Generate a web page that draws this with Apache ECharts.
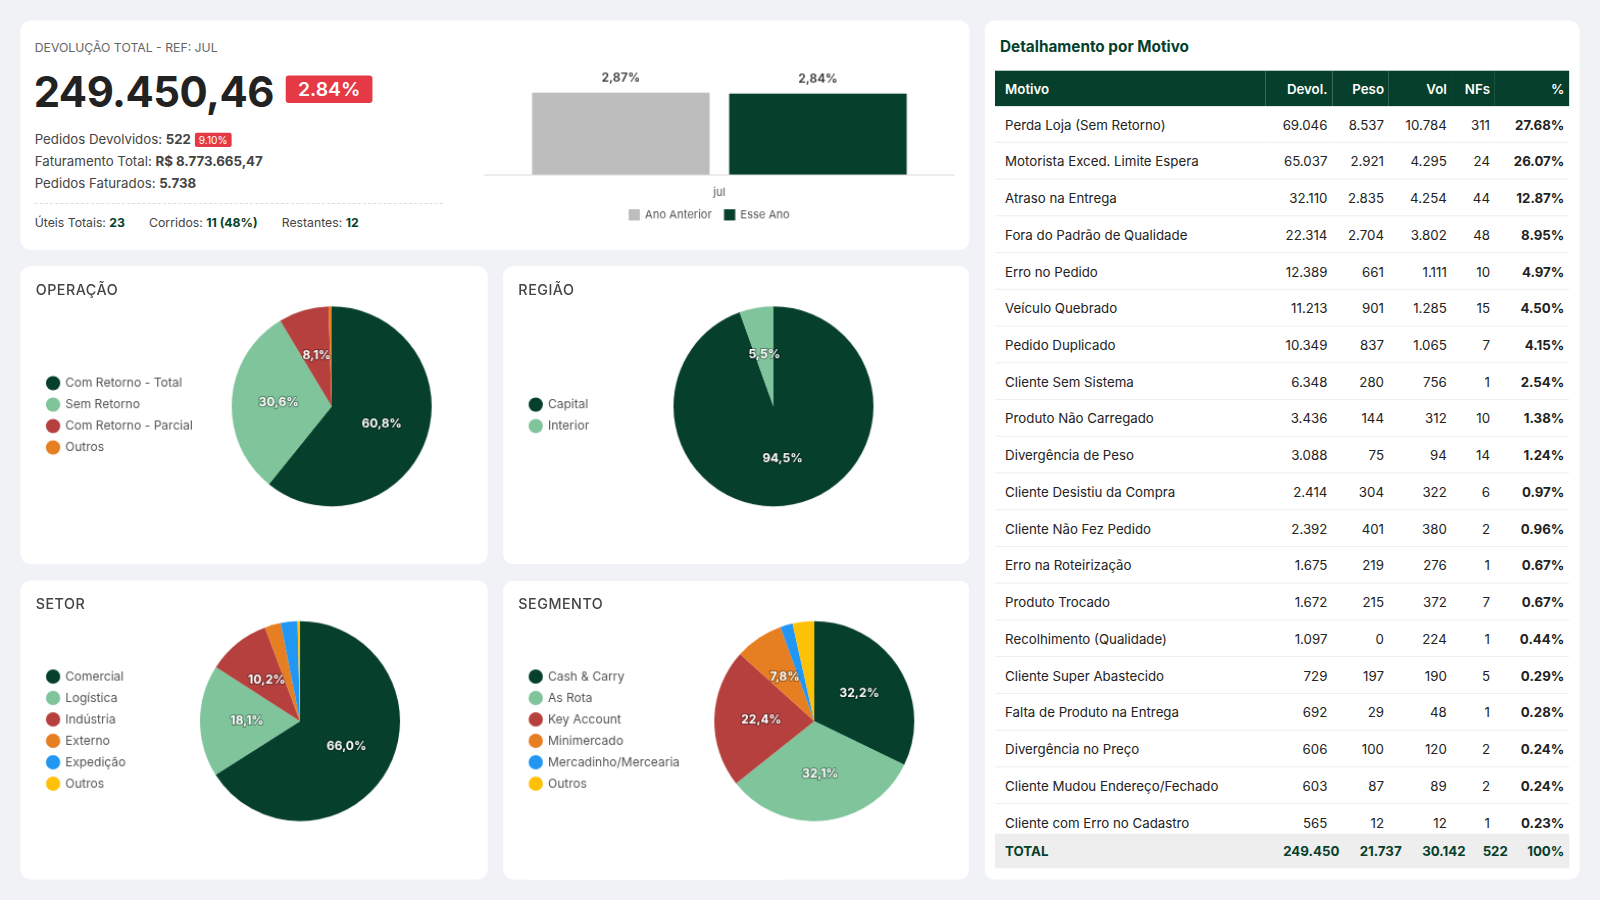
<!DOCTYPE html>
<html><head><meta charset="utf-8">
<script src="https://cdn.jsdelivr.net/npm/echarts@6/dist/echarts.min.js"></script>
<style>
body{margin:0;background:#f0f2f5;font-family:Inter,"Noto Sans",sans-serif;width:1600px;height:900px;overflow:hidden;position:relative}
#wrap{position:absolute;left:0;top:0;width:1568px;height:882px;transform:scale(1.0204);transform-origin:0 0}
.card{position:absolute;background:#fff;border-radius:10px}
.ttl{position:absolute;left:15px;top:14px;font-size:14px;font-weight:500;color:#444;letter-spacing:.5px}
.ch{position:absolute;left:0;top:0;right:0;bottom:0}
table{border-collapse:collapse;width:563px;font-size:13px;color:#222}
th{background:#063f2b;color:#fff;font-weight:600;height:35px;text-align:right;padding:0 5px}
td{height:35px;border-bottom:1px solid #eee;text-align:right;padding:0 5px}
th:first-child,td:first-child{text-align:left;padding-left:10px}
td:last-child{font-weight:700}
#tot{position:absolute;left:10px;top:797px;width:563px;height:34px;background:#eeeeee}
#tot td{color:#063f2b;font-weight:700;height:34px;border:none}
</style></head><body><div id="wrap">
<div class="card" style="left:20px;top:20px;width:930px;height:225px">
 <div style="position:absolute;left:14px;top:19px;font-size:12px;color:#666">DEVOLUÇÃO TOTAL - REF: JUL</div>
 <div style="position:absolute;left:13px;top:45px;font-size:41px;font-weight:700;color:#222;letter-spacing:-0.5px">249.450,46</div>
 <div style="position:absolute;left:260px;top:54px;background:#e63946;color:#fff;font-size:19px;font-weight:600;padding:2px 12px;border-radius:3px">2.84%</div>
 <div style="position:absolute;left:14px;top:106px;font-size:13px;color:#444;line-height:21px">
  Pedidos Devolvidos: <b>522</b> <span style="background:#e63946;color:#fff;font-size:10px;padding:1px 4px;border-radius:2px">9.10%</span><br>
  Faturamento Total: <b>R$ 8.773.665,47</b><br>Pedidos Faturados: <b>5.738</b></div>
 <div style="position:absolute;left:14px;top:179px;width:400px;border-top:1px dashed #ddd"></div>
 <div style="position:absolute;left:14px;top:190px;font-size:12px;color:#444">Úteis Totais: <b style="color:#063f2b">23</b>&nbsp;&nbsp;&nbsp;&nbsp;&nbsp;&nbsp;&nbsp;Corridos: <b style="color:#063f2b">11 (48%)</b>&nbsp;&nbsp;&nbsp;&nbsp;&nbsp;&nbsp;&nbsp;Restantes: <b style="color:#063f2b">12</b></div>
 <div id="bar" style="position:absolute;left:420px;top:0;width:510px;height:225px"></div>
</div>
<div class="card" style="left:20px;top:261px;width:458px;height:292px"><div class="ttl">OPERAÇÃO</div><div id="p1" class="ch"></div></div>
<div class="card" style="left:493px;top:261px;width:457px;height:292px"><div class="ttl">REGIÃO</div><div id="p2" class="ch"></div></div>
<div class="card" style="left:20px;top:569px;width:458px;height:293px"><div class="ttl">SETOR</div><div id="p3" class="ch"></div></div>
<div class="card" style="left:493px;top:569px;width:457px;height:293px"><div class="ttl">SEGMENTO</div><div id="p4" class="ch"></div></div>
<div class="card" style="left:965px;top:20px;width:583px;height:842px;overflow:hidden">
 <div style="position:absolute;left:15px;top:16px;font-size:15px;font-weight:700;color:#063f2b">Detalhamento por Motivo</div>
 <div style="position:absolute;left:10px;top:49px;height:787px;overflow:hidden"><table id="tb"></table></div>
 <table id="tot"></table>
</div>
</div>
<script>
var barCats = ['jul'];
var anoAnterior = [2.87];
var esseAno = [2.84];

var opNames = ['Com Retorno - Total','Sem Retorno','Com Retorno - Parcial','Outros'];
var opVals = [60.8, 30.6, 8.1, 0.5];
var regNames = ['Capital','Interior'];
var regVals = [94.5, 5.5];
var setNames = ['Comercial','Logística','Indústria','Externo','Expedição','Outros'];
var setVals = [66.0, 18.1, 10.2, 2.6, 2.7, 0.4];
var segNames = ['Cash & Carry','As Rota','Key Account','Minimercado','Mercadinho/Mercearia','Outros'];
var segVals = [32.2, 32.1, 22.4, 7.8, 2.0, 3.5];

var motivos = ['Perda Loja (Sem Retorno)','Motorista Exced. Limite Espera','Atraso na Entrega','Fora do Padrão de Qualidade','Erro no Pedido','Veículo Quebrado','Pedido Duplicado','Cliente Sem Sistema','Produto Não Carregado','Divergência de Peso','Cliente Desistiu da Compra','Cliente Não Fez Pedido','Erro na Roteirização','Produto Trocado','Recolhimento (Qualidade)','Cliente Super Abastecido','Falta de Produto na Entrega','Divergência no Preço','Cliente Mudou Endereço/Fechado','Cliente com Erro no Cadastro','Pendente de Troca/Bonificação'];
var devol = ['69.046','65.037','32.110','22.314','12.389','11.213','10.349','6.348','3.436','3.088','2.414','2.392','1.675','1.672','1.097','729','692','606','603','565','555'];
var peso = ['8.537','2.921','2.835','2.704','661','901','837','280','144','75','304','401','219','215','0','197','29','100','87','12','38'];
var vol = ['10.784','4.295','4.254','3.802','1.111','1.285','1.065','756','312','94','322','380','276','372','224','190','48','120','89','12','122'];
var nfs = [311,24,44,48,10,15,7,1,10,14,6,2,1,7,1,5,1,2,2,1,2];
var pct = ['27.68%','26.07%','12.87%','8.95%','4.97%','4.50%','4.15%','2.54%','1.38%','1.24%','0.97%','0.96%','0.67%','0.67%','0.44%','0.29%','0.28%','0.24%','0.24%','0.23%','0.22%'];
var total = ['TOTAL','249.450','21.737','30.142','522','100%'];

var h = '<tr><th style="width:250px">Motivo</th><th>Devol.</th><th>Peso</th><th>Vol</th><th>NFs</th><th>%</th></tr>';
motivos.forEach(function(m,i){
  h += '<tr><td>'+m+'</td><td>'+devol[i]+'</td><td>'+peso[i]+'</td><td>'+vol[i]+'</td><td>'+nfs[i]+'</td><td>'+pct[i]+'</td></tr>';
});
document.getElementById('tb').innerHTML = h;
document.getElementById('tot').innerHTML = '<tr><td style="width:250px">'+total.join('</td><td>')+'</td></tr>';

var green='#063f2b';
var colors=[green,'#7fc49b','#b5403d','#e67e22','#2196f3','#ffc107'];
var font='Inter, Noto Sans, sans-serif';
var fmt = function(p){return p.value.toFixed(2).replace('.',',')+'%'};

echarts.init(document.getElementById('bar')).setOption({
  textStyle:{fontFamily:font},
  grid:{left:35,right:15,top:70,bottom:74},
  legend:{bottom:24,itemWidth:11,itemHeight:11,itemGap:12,icon:'rect',textStyle:{fontSize:11,color:'#555'}},
  xAxis:{type:'category',data:barCats,axisTick:{show:false},axisLine:{lineStyle:{color:'#ddd'}},axisLabel:{color:'#555',fontSize:11,margin:12}},
  yAxis:{type:'value',show:false,min:0,max:2.9},
  series:[
    {name:'Ano Anterior',type:'bar',data:anoAnterior,barWidth:174,barGap:'11%',itemStyle:{color:'#bdbdbd'},label:{show:true,position:'top',formatter:fmt,fontSize:12,fontWeight:600,color:'#333',distance:8}},
    {name:'Esse Ano',type:'bar',data:esseAno,barWidth:174,itemStyle:{color:green},label:{show:true,position:'top',formatter:fmt,fontSize:12,fontWeight:600,color:'#333',distance:8}}
  ]
});

function pie(id,names,vals,cx){
  echarts.init(document.getElementById(id)).setOption({
    textStyle:{fontFamily:font},
    color:colors,
    legend:{orient:'vertical',left:20,top:'middle',itemWidth:14,itemHeight:14,icon:'circle',itemGap:7,textStyle:{fontSize:12,color:'#555'},data:names},
    series:[{type:'pie',radius:98,center:[cx,'47%'],
      data:names.map(function(n,i){return {name:n,value:vals[i]};}),
      label:{show:true,position:'inside',formatter:function(p){return p.value<3?'':(p.value.toFixed(1).replace('.',',')+'%');},color:'#fff',fontWeight:700,fontSize:12,textBorderColor:'rgba(0,0,0,0.35)',textBorderWidth:2},
      labelLine:{show:false},itemStyle:{borderWidth:0}
    }]
  });
}
pie('p1',opNames,opVals,305);
pie('p2',regNames,regVals,265);
pie('p3',setNames,setVals,274);
pie('p4',segNames,segVals,305);
</script>
</body></html>
